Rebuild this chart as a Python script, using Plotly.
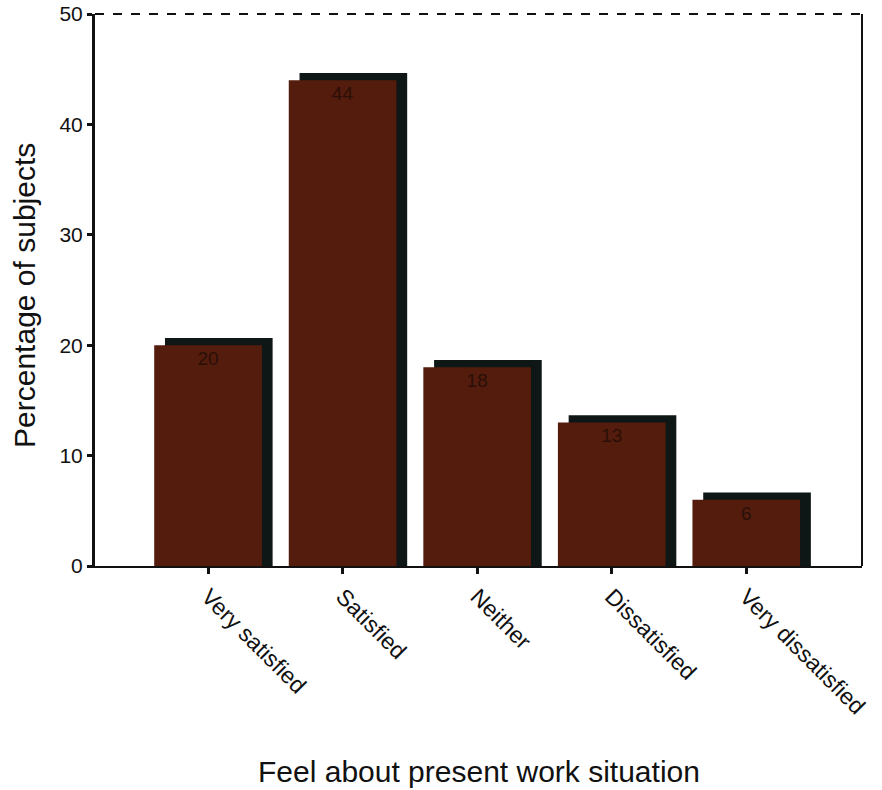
import plotly.graph_objects as go

categories = ["Very satisfied", "Satisfied", "Neither", "Dissatisfied", "Very dissatisfied"]
values = [20, 44, 18, 13, 6]
labels = ["20", "44", "18", "13", "6"]
y_ticks = [0, 10, 20, 30, 40, 50]

BAR_COLOR = "#541c0c"
SHADOW_COLOR = "#0f1616"
FONT = "Liberation Sans, Arial, sans-serif"

x_idx = list(range(len(categories)))

fig = go.Figure()
# shadow (3D depth) bars
fig.add_trace(go.Bar(
    x=x_idx, y=[v + 0.65 for v in values], width=0.8, offset=-0.32,
    marker=dict(color=SHADOW_COLOR, line=dict(width=0)),
    hoverinfo="skip", showlegend=False,
))
# front bars
fig.add_trace(go.Bar(
    x=x_idx, y=values, width=0.8, offset=-0.4,
    marker=dict(color=BAR_COLOR, line=dict(width=0)),
    text=labels, textposition="inside", insidetextanchor="end",
    textfont=dict(family=FONT, size=19, color="#2a0f08"),
    showlegend=False,
))

fig.update_layout(
    barmode="overlay",
    width=882, height=790,
    margin=dict(l=95, r=20, t=14, b=224, autoexpand=False),
    paper_bgcolor="white", plot_bgcolor="white",
    font=dict(family=FONT, color="#111111"),
    xaxis=dict(
        range=[-0.84, 4.86], automargin=False,
        tickmode="array", tickvals=x_idx, ticktext=categories,
        tickangle=45, tickfont=dict(size=23, color="#111111"),
        ticks="outside", ticklen=6, tickwidth=3, tickcolor="#111111",
        showline=True, linecolor="#111111", linewidth=2,
        showgrid=False, zeroline=False,
    ),
    yaxis=dict(
        range=[0, 50], automargin=False,
        tickmode="array", tickvals=y_ticks,
        tickfont=dict(size=21, color="#111111"),
        ticks="outside", ticklen=5, tickwidth=3, tickcolor="#111111",
        showline=True, linecolor="#111111", linewidth=3,
        showgrid=False, zeroline=False,
    ),
    annotations=[
        dict(text="Feel about present work situation", xref="paper", yref="paper",
             x=0.5, y=-0.373, xanchor="center", yanchor="middle", showarrow=False,
             font=dict(size=30, color="#111111")),
        dict(text="Percentage of subjects", xref="paper", yref="paper",
             x=-0.0913, y=0.491, xanchor="center", yanchor="middle", showarrow=False,
             textangle=-90, font=dict(size=30, color="#111111")),
    ],
)

# top dashed border and right solid border of the plot frame
fig.add_shape(type="line", xref="paper", yref="paper", x0=0, x1=1, y0=1, y1=1,
              line=dict(color="#111111", width=2, dash="dash"))
fig.add_shape(type="line", xref="paper", yref="paper", x0=1, x1=1, y0=0, y1=1,
              line=dict(color="#111111", width=2))

fig.write_html("out.html", config={"displayModeBar": False},
               post_script="document.body.style.margin='0';document.body.style.overflow='hidden';")
